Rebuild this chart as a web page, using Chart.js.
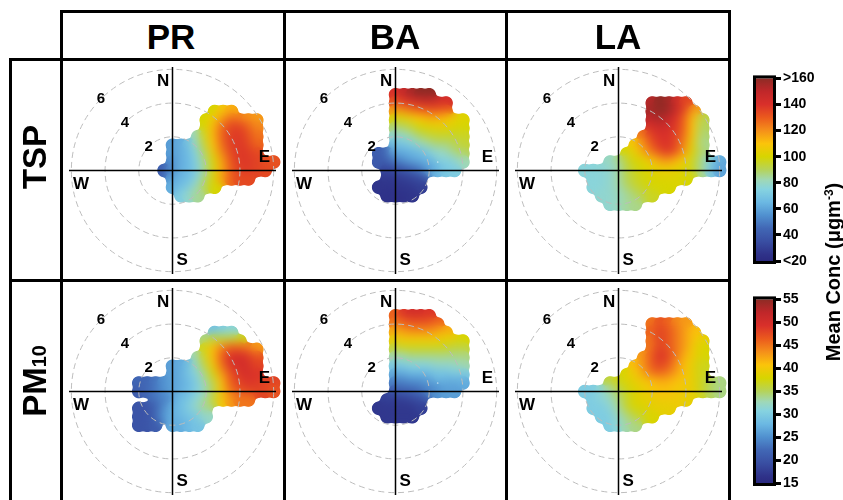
<!DOCTYPE html>
<html>
<head>
<meta charset="utf-8">
<script src="https://cdn.jsdelivr.net/npm/chart.js@4.4.1/dist/chart.umd.min.js"></script>
<style>
  html, body { margin: 0; padding: 0; background: #fff; }
  #fig { position: relative; width: 843px; height: 500px; overflow: hidden; background: #fff;
         font-family: "Liberation Sans", Arial, Helvetica, sans-serif; font-weight: bold; color: #000; }
  #fig canvas { position: absolute; z-index: 1; }
  .ln { position: absolute; background: #000; z-index: 3; }
  .hdr { position: absolute; width: 200px; height: 36px; line-height: 36px; text-align: center; font-size: 35px; z-index: 4; }
  .rowlab { position: absolute; width: 200px; height: 34px; line-height: 34px; text-align: center; font-size: 33px;
            transform: rotate(-90deg); z-index: 4; white-space: nowrap; }
  .rowlab sub { font-size: 0.6em; vertical-align: baseline; }
  .title { position: absolute; width: 260px; height: 22px; line-height: 22px; text-align: center; font-size: 20px;
           transform: rotate(-90deg); z-index: 4; white-space: nowrap; }
  .title sup { font-size: 0.6em; vertical-align: 0.6em; }
</style>
</head>
<body>
<div id="fig"></div>
<script>
const _ = null;

// grid of wind components (u east, v north), wind speed units
const windU = [-2.5, -2, -1.5, -1, -0.5, 0, 0.5, 1, 1.5, 2, 2.5, 3, 3.5, 4, 4.5, 5, 5.5, 6];
const windV = [5, 4.5, 4, 3.5, 3, 2.5, 2, 1.5, 1, 0.5, 0, -0.5, -1, -1.5, -2, -2.5];

const sites = ["PR", "BA", "LA"];
const ringTicks = [2, 4, 6];
const compass = ["N", "E", "S", "W"];

const tspTicks = [20, 40, 60, 80, 100, 120, 140, 160];
const tspTickLabels = ["<20", "40", "60", "80", "100", "120", "140", ">160"];
const pm10Ticks = [15, 20, 25, 30, 35, 40, 45, 50, 55];
const pm10TickLabels = ["15", "20", "25", "30", "35", "40", "45", "50", "55"];

// mean concentration (ugm-3) per grid cell, rows follow windV, columns follow windU
const tspPR = [
  [_,_,_,_,_,_,_,_,_,_,_,_,_,_,_,_,_,_],
  [_,_,_,_,_,_,_,_,_,_,_,_,_,_,_,_,_,_],
  [_,_,_,_,_,_,_,_,_,_,_,_,_,_,_,_,_,_],
  [_,_,_,_,_,_,_,_,_,_,100,108,114,_,_,_,_,_],
  [_,_,_,_,_,_,_,_,_,100,106,116,126,124,120,118,_,_],
  [_,_,_,_,_,_,_,_,_,100,112,126,134,136,130,122,_,_],
  [_,_,_,_,_,_,_,_,82,98,112,128,136,138,134,126,_,_],
  [_,_,_,_,_,58,62,68,80,95,110,126,136,138,136,128,_,_],
  [_,_,_,_,_,58,62,66,76,90,106,122,134,138,138,134,_,_],
  [_,_,_,_,_,55,62,65,74,86,100,116,130,138,138,136,134,132],
  [_,_,_,_,42,52,62,65,72,84,98,114,128,136,138,136,134,_],
  [_,_,_,_,_,58,64,66,74,86,100,116,128,134,134,_,_,_],
  [_,_,_,_,_,62,66,70,80,90,100,_,_,_,_,_,_,_],
  [_,_,_,_,_,_,72,78,85,_,_,_,_,_,_,_,_,_],
  [_,_,_,_,_,_,_,_,_,_,_,_,_,_,_,_,_,_],
  [_,_,_,_,_,_,_,_,_,_,_,_,_,_,_,_,_,_]
];

const tspBA = [
  [_,_,_,_,_,_,_,_,_,_,_,_,_,_,_,_,_,_],
  [_,_,_,_,_,140,148,155,160,160,_,_,_,_,_,_,_,_],
  [_,_,_,_,_,132,138,142,146,148,146,142,_,_,_,_,_,_],
  [_,_,_,_,_,118,122,126,130,132,132,130,_,_,_,_,_,_],
  [_,_,_,_,_,100,102,106,110,114,115,112,106,102,_,_,_,_],
  [_,_,_,_,_,88,90,94,100,102,104,104,102,100,_,_,_,_],
  [_,_,_,_,_,78,80,84,90,94,96,96,96,96,_,_,_,_],
  [_,_,_,_,_,68,70,74,80,84,88,88,90,94,_,_,_,_],
  [_,_,_,42,44,62,62,64,66,72,78,80,86,90,_,_,_,_],
  [_,_,_,40,42,50,55,60,62,65,_,74,76,82,_,_,_,_],
  [_,_,_,_,32,35,40,45,50,58,64,70,72,_,_,_,_,_],
  [_,_,_,_,28,28,30,32,36,_,_,_,_,_,_,_,_,_],
  [_,_,_,26,26,26,27,28,30,_,_,_,_,_,_,_,_,_],
  [_,_,_,_,25,25,25,26,_,_,_,_,_,_,_,_,_,_],
  [_,_,_,_,_,_,_,_,_,_,_,_,_,_,_,_,_,_],
  [_,_,_,_,_,_,_,_,_,_,_,_,_,_,_,_,_,_]
];

const tspLA = [
  [_,_,_,_,_,_,_,_,_,_,_,_,_,_,_,_,_,_],
  [_,_,_,_,_,_,_,_,_,_,_,_,_,_,_,_,_,_],
  [_,_,_,_,_,_,_,_,_,152,160,156,145,135,_,_,_,_],
  [_,_,_,_,_,_,_,_,_,155,160,158,148,136,118,_,_,_],
  [_,_,_,_,_,_,_,_,_,150,155,150,140,128,112,92,_,_],
  [_,_,_,_,_,_,_,_,_,142,146,145,138,128,110,90,_,_],
  [_,_,_,_,_,_,_,_,125,136,140,140,136,126,108,88,_,_],
  [_,_,_,_,_,_,_,108,118,130,138,140,134,122,104,86,_,_],
  [_,_,_,_,_,_,100,104,114,124,132,138,132,118,102,88,_,_],
  [_,_,_,_,80,84,92,100,102,108,116,120,114,106,96,86,74,62],
  [_,76,76,77,78,82,90,96,100,102,105,106,104,102,96,86,72,60],
  [_,_,76,76,78,82,90,95,98,100,102,102,102,100,_,_,_,_],
  [_,_,76,76,78,82,88,94,97,100,100,100,_,_,_,_,_,_],
  [_,_,_,78,78,80,84,88,92,96,_,_,_,_,_,_,_,_],
  [_,_,_,_,78,80,84,86,_,_,_,_,_,_,_,_,_,_],
  [_,_,_,_,_,_,_,_,_,_,_,_,_,_,_,_,_,_]
];

const pm10PR = [
  [_,_,_,_,_,_,_,_,_,_,_,_,_,_,_,_,_,_],
  [_,_,_,_,_,_,_,_,_,_,_,_,_,_,_,_,_,_],
  [_,_,_,_,_,_,_,_,_,_,_,_,_,_,_,_,_,_],
  [_,_,_,_,_,_,_,_,_,_,29,30,31,_,_,_,_,_],
  [_,_,_,_,_,_,_,_,_,34,36,36,36,37,_,_,_,_],
  [_,_,_,_,_,_,_,_,_,38,41,44,46,46,45,43,_,_],
  [_,_,_,_,_,_,_,_,33,37,41,46,49,50,49,47,_,_],
  [_,_,_,_,_,26,27,28,32,36,40,45,49,50,50,48,_,_],
  [_,_,_,_,_,26,27,29,31,34,38,43,47,49,50,49,_,_],
  [_,22,22,23,25,26,27,28,30,33,36,41,46,48,49,49,48,48],
  [_,21,22,23,25,26,27,28,30,32,35,40,45,47,48,48,48,47],
  [_,_,_,23,24,_,28,29,31,33,36,40,43,45,45,_,_,_],
  [_,20,20,21,24,27,28,30,32,34,_,_,_,_,_,_,_,_],
  [_,20,20,21,25,27,28,29,30,32,_,_,_,_,_,_,_,_],
  [_,20,20,21,_,27,27,28,29,_,_,_,_,_,_,_,_,_],
  [_,_,_,_,_,_,_,_,_,_,_,_,_,_,_,_,_,_]
];

const pm10BA = [
  [_,_,_,_,_,_,_,_,_,_,_,_,_,_,_,_,_,_],
  [_,_,_,_,_,46,49,50,50,49,_,_,_,_,_,_,_,_],
  [_,_,_,_,_,45,46,47,47,47,46,_,_,_,_,_,_,_],
  [_,_,_,_,_,42,43,44,44,44,43,42,_,_,_,_,_,_],
  [_,_,_,_,_,39,40,40,40,40,40,39,39,38,_,_,_,_],
  [_,_,_,_,_,36,37,37,37,37,37,37,36,36,_,_,_,_],
  [_,_,_,_,_,33,33,34,34,34,34,34,34,34,_,_,_,_],
  [_,_,_,_,_,30,30,31,31,31,32,32,32,33,_,_,_,_],
  [_,_,_,_,_,27,27,28,28,28,29,29,30,30,_,_,_,_],
  [_,_,_,_,_,24,24,25,25,26,_,27,27,27,_,_,_,_],
  [_,_,_,_,_,21,22,22,23,24,25,26,26,_,_,_,_,_],
  [_,_,_,_,18,18,18,19,20,_,_,_,_,_,_,_,_,_],
  [_,_,_,17,17,17,17,17,18,_,_,_,_,_,_,_,_,_],
  [_,_,_,_,17,17,17,17,_,_,_,_,_,_,_,_,_,_],
  [_,_,_,_,_,_,_,_,_,_,_,_,_,_,_,_,_,_],
  [_,_,_,_,_,_,_,_,_,_,_,_,_,_,_,_,_,_]
];

const pm10LA = [
  [_,_,_,_,_,_,_,_,_,_,_,_,_,_,_,_,_,_],
  [_,_,_,_,_,_,_,_,_,_,_,_,_,_,_,_,_,_],
  [_,_,_,_,_,_,_,_,_,45,47,46,44,43,_,_,_,_],
  [_,_,_,_,_,_,_,_,_,46,48,47,45,43,41,_,_,_],
  [_,_,_,_,_,_,_,_,_,45,48,47,45,43,41,39,_,_],
  [_,_,_,_,_,_,_,_,_,45,48,47,45,43,40,38,_,_],
  [_,_,_,_,_,_,_,_,43,46,49,48,45,42,40,38,_,_],
  [_,_,_,_,_,_,_,41,43,46,48,47,44,41,39,37,_,_],
  [_,_,_,_,_,_,38,40,42,45,46,45,43,41,39,37,_,_],
  [_,_,_,_,36,37,38,39,40,41,42,42,41,40,39,37,35,34],
  [_,30,30,31,33,35,37,38,39,40,41,41,40,40,39,37,35,34],
  [_,_,30,31,32,34,36,38,39,39,40,40,40,39,_,_,_,_],
  [_,_,30,30,31,33,36,38,38,39,39,39,_,_,_,_,_,_],
  [_,_,_,30,30,32,34,36,37,38,_,_,_,_,_,_,_,_],
  [_,_,_,_,30,31,33,34,_,_,_,_,_,_,_,_,_,_],
  [_,_,_,_,_,_,_,_,_,_,_,_,_,_,_,_,_,_]
];

const FONT = "'Liberation Sans', Arial, Helvetica, sans-serif";
Chart.defaults.font.family = FONT;

// colour scale sampled from the key
const colourStops = [
  [0.000, "#2b2a80"], [0.036, "#2f3289"], [0.107, "#394ea2"], [0.179, "#4167b5"],
  [0.250, "#5090cf"], [0.321, "#6bb8e3"], [0.393, "#86d3e0"], [0.443, "#9fd8b7"],
  [0.500, "#b5d35a"], [0.571, "#d7d500"], [0.643, "#fbc40a"], [0.714, "#f5901a"],
  [0.786, "#eb5a1d"], [0.857, "#d9302a"], [0.929, "#c0272a"], [1.000, "#8e2b25"]
];

const DOT = 7;

function hexRgb(h) {
  return [parseInt(h.slice(1, 3), 16), parseInt(h.slice(3, 5), 16), parseInt(h.slice(5, 7), 16)];
}

function colourAt(f) {
  f = Math.max(0, Math.min(1, f));
  for (let i = 1; i < colourStops.length; i++) {
    const [f1, c1] = colourStops[i];
    const [f0, c0] = colourStops[i - 1];
    if (f <= f1) {
      const t = (f - f0) / (f1 - f0);
      const a = hexRgb(c0), b = hexRgb(c1);
      return `rgb(${a.map((v, k) => Math.round(v + (b[k] - v) * t)).join(",")})`;
    }
  }
  return colourStops[colourStops.length - 1][1];
}

const fig = document.getElementById("fig");

function addCanvas(left, top, w, h) {
  const cv = document.createElement("canvas");
  cv.width = w; cv.height = h;
  cv.style.left = left + "px"; cv.style.top = top + "px";
  cv.style.width = w + "px"; cv.style.height = h + "px";
  fig.appendChild(cv);
  return cv;
}

function addDiv(cls, left, top, w, h, html) {
  const d = document.createElement("div");
  d.className = cls;
  d.style.left = left + "px"; d.style.top = top + "px";
  if (w !== null) d.style.width = w + "px";
  if (h !== null) d.style.height = h + "px";
  if (html) d.innerHTML = html;
  fig.appendChild(d);
  return d;
}

// soften the colour steps between grid cells, lightly soften the outline of the dots
const smoothSurface = {
  id: "smoothSurface",
  afterDatasetsDraw(chart) {
    const { ctx, canvas } = chart;
    const w = canvas.width, h = canvas.height;
    const pts = chart.getDatasetMeta(0).data;

    const col = document.createElement("canvas");
    col.width = w; col.height = h;
    const cc = col.getContext("2d");
    cc.drawImage(canvas, 0, 0);
    cc.filter = "blur(5px)";
    cc.drawImage(canvas, 0, 0);

    const msk = document.createElement("canvas");
    msk.width = w; msk.height = h;
    const mc = msk.getContext("2d");
    mc.filter = "blur(1.5px)";
    mc.fillStyle = "#000";
    mc.beginPath();
    pts.forEach(p => {
      mc.moveTo(p.x + DOT, p.y);
      mc.arc(p.x, p.y, DOT, 0, Math.PI * 2);
    });
    mc.fill();

    const cd = cc.getImageData(0, 0, w, h);
    const md = mc.getImageData(0, 0, w, h).data;
    for (let i = 3; i < cd.data.length; i += 4) {
      const m = md[i];
      const a = m <= 100 ? 0 : m >= 156 ? 255 : Math.round((m - 100) * 255 / 56);
      cd.data[i] = cd.data[i] > 0 ? a : 0;
    }
    ctx.clearRect(0, 0, w, h);
    ctx.putImageData(cd, 0, 0);
  }
};

// rings, cross-hair and labels on top of the surface
const polarOverlay = {
  id: "polarOverlay",
  afterDatasetsDraw(chart) {
    const { ctx, scales: { x, y } } = chart;
    const cx = x.getPixelForValue(0), cy = y.getPixelForValue(0);
    const unit = x.getPixelForValue(1) - cx;
    ctx.save();
    ctx.strokeStyle = "#bdbdbd";
    ctx.lineWidth = 1;
    ctx.setLineDash([6, 4]);
    ringTicks.forEach(r => {
      ctx.beginPath();
      ctx.arc(cx, cy, r * unit, 0, Math.PI * 2);
      ctx.stroke();
    });
    ctx.setLineDash([]);
    ctx.strokeStyle = "#000";
    ctx.lineWidth = 1.5;
    ctx.beginPath();
    ctx.moveTo(x.left, cy); ctx.lineTo(x.right, cy);
    ctx.moveTo(cx, y.top); ctx.lineTo(cx, y.bottom);
    ctx.stroke();

    ctx.fillStyle = "#000";
    ctx.textAlign = "center";
    ctx.textBaseline = "middle";
    ctx.font = "bold 15px " + FONT;
    ringTicks.forEach(r => {
      const d = r * Math.SQRT1_2;
      ctx.fillText(String(r), x.getPixelForValue(-d), y.getPixelForValue(d));
    });
    ctx.font = "bold 17px " + FONT;
    const spots = { N: [-0.55, 5.27], E: [5.45, 0.8], S: [0.57, -5.33], W: [-5.43, -0.8] };
    compass.forEach(k => {
      ctx.fillText(k, x.getPixelForValue(spots[k][0]), y.getPixelForValue(spots[k][1]));
    });
    ctx.restore();
  }
};

function drawPanel(grid, lo, hi, left, top) {
  const size = 221;
  const R = (size / 2) / 18;
  const pts = [], cols = [];
  grid.forEach((row, i) => {
    row.forEach((val, j) => {
      if (val === null) return;
      pts.push({ x: windU[j], y: windV[i] });
      cols.push(colourAt((val - lo) / (hi - lo)));
    });
  });
  new Chart(addCanvas(left, top, size, size), {
    type: "scatter",
    data: {
      datasets: [{
        data: pts,
        pointRadius: DOT,
        pointHoverRadius: DOT,
        pointBorderWidth: 0,
        pointBackgroundColor: cols,
        pointBorderColor: cols
      }]
    },
    options: {
      responsive: false,
      animation: false,
      events: [],
      layout: { padding: 0 },
      plugins: { legend: { display: false }, tooltip: { enabled: false } },
      scales: {
        x: { type: "linear", min: -R, max: R, display: false },
        y: { type: "linear", min: -R, max: R, display: false }
      }
    },
    plugins: [smoothSurface, polarOverlay]
  });
}

const keyBar = {
  id: "keyBar",
  afterDraw(chart) {
    const { ctx, chartArea: a } = chart;
    ctx.save();
    const g = ctx.createLinearGradient(0, a.bottom, 0, a.top);
    colourStops.forEach(([f, c]) => g.addColorStop(f, c));
    ctx.fillStyle = g;
    ctx.fillRect(a.left, a.top, a.right - a.left, a.bottom - a.top);
    ctx.strokeStyle = "#000";
    ctx.lineWidth = 3;
    ctx.strokeRect(a.left - 1.5, a.top - 1.5, a.right - a.left + 3, a.bottom - a.top + 3);
    ctx.restore();
  }
};

function drawKey(ticks, labels, top, h) {
  new Chart(addCanvas(753, top, 80, h), {
    type: "scatter",
    data: { datasets: [] },
    options: {
      responsive: false,
      animation: false,
      events: [],
      layout: { padding: { left: 3, top: 10, bottom: 12, right: 0 } },
      plugins: { legend: { display: false }, tooltip: { enabled: false } },
      scales: {
        x: { type: "linear", display: false, min: 0, max: 1 },
        y: {
          type: "linear",
          position: "right",
          min: ticks[0],
          max: ticks[ticks.length - 1],
          afterBuildTicks: s => { s.ticks = ticks.map(v => ({ value: v })); },
          afterFit: s => { s.width = 60; },
          grid: { drawOnChartArea: false, drawTicks: true, tickLength: 8, tickWidth: 3, tickColor: "#000" },
          border: { display: false },
          ticks: {
            color: "#000",
            padding: 2,
            font: { size: 14, weight: "bold" },
            callback: (v, i) => labels[i]
          }
        }
      }
    },
    plugins: [keyBar]
  });
}

// panels
const colLeft = [62, 285, 508];
const rowTop = [60, 281];
drawPanel(tspPR, 20, 160, colLeft[0], rowTop[0]);
drawPanel(tspBA, 20, 160, colLeft[1], rowTop[0]);
drawPanel(tspLA, 20, 160, colLeft[2], rowTop[0]);
drawPanel(pm10PR, 15, 55, colLeft[0], rowTop[1]);
drawPanel(pm10BA, 15, 55, colLeft[1], rowTop[1]);
drawPanel(pm10LA, 15, 55, colLeft[2], rowTop[1]);

drawKey(tspTicks, tspTickLabels, 68, 205);
drawKey(pm10Ticks, pm10TickLabels, 289, 206);

// table frame
addDiv("ln", 60, 10, 671, 3);
addDiv("ln", 9, 58, 722, 3);
addDiv("ln", 9, 279, 722, 3);
addDiv("ln", 9, 58, 3, 442);
[60, 283, 505, 728].forEach(x => addDiv("ln", x, 10, 3, 490));

// headers and row labels
const headCentre = [171, 395, 618];
sites.forEach((s, i) => addDiv("hdr", headCentre[i] - 100, 19, 200, 36, s));
addDiv("rowlab", 35 - 100, 157 - 17, 200, 34, "TSP");
addDiv("rowlab", 35 - 100, 381 - 17, 200, 34, "PM<sub>10</sub>");
addDiv("title", 829 - 130, 272 - 11, 260, 22, "Mean Conc (μgm<sup>-3</sup>)");
</script>
</body>
</html>
